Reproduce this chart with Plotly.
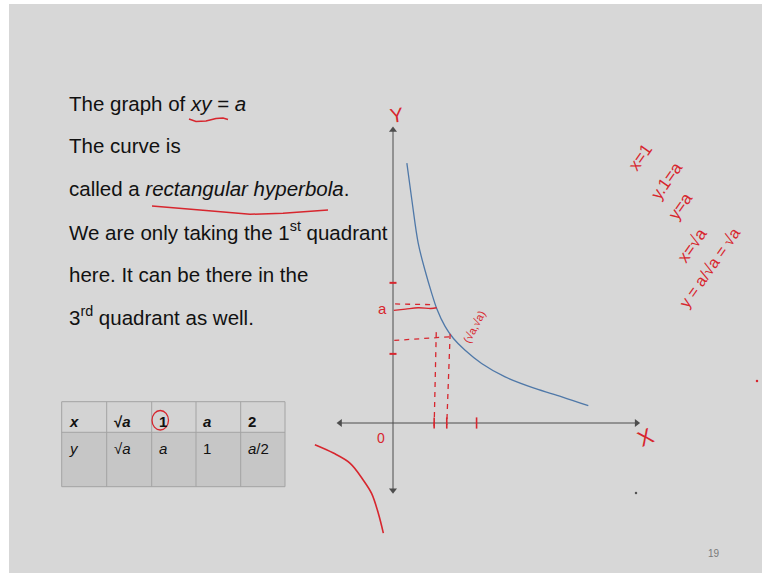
import plotly.graph_objects as go

W, H = 764, 573

# ---------- data (graph units: x along the drawn X axis, y along the drawn Y axis) ----------
curve_x = [0.33, 0.45, 0.60, 0.76, 0.92, 1.04, 1.24, 1.44, 1.71, 2.11, 2.67, 3.38, 4.02, 4.65]
curve_y = [4.06, 3.48, 2.81, 2.39, 2.03, 1.79, 1.51, 1.32, 1.14, 0.93, 0.72, 0.54, 0.41, 0.27]

# branch sketched in the 3rd quadrant
q3_x = [-1.86, -1.42, -1.02, -0.71, -0.51, -0.35, -0.23]
q3_y = [-0.34, -0.47, -0.63, -0.89, -1.10, -1.41, -1.72]

x_axis_span = [-1.26, 5.80]
y_axis_span = [-1.05, 4.58]

# red guide strokes
a_level_x = [0.02, 0.30, 0.60, 0.90, 1.04]
a_level_y = [1.76, 1.78, 1.80, 1.79, 1.80]
a_dash_x = [0.05, 0.90]
a_dash_y = [1.86, 1.85]
root_level_x = [0.03, 1.40]
root_level_y = [1.29, 1.35]
v_one_x = [1.03, 0.98]
v_one_y = [1.42, -0.05]
v_root_x = [1.36, 1.28]
v_root_y = [1.39, -0.03]
x_ticks = [0.98, 1.28, 1.99]
y_ticks = [2.19, 1.08]

# slide text
text_lines = [
    "The graph of <i>xy</i> = <i>a</i>",
    "The curve is",
    "called a <i>rectangular hyperbola</i>.",
    "We are only taking the 1<sup>st</sup> quadrant",
    "here. It can be there in the",
    "3<sup>rd</sup> quadrant as well.",
]
text_baselines = [112, 154, 197, 240, 283, 325]

# table of values
table_header = ["<b><i>x</i></b>", "<b>√<i>a</i></b>", "<b>1</b>", "<b><i>a</i></b>", "<b>2</b>"]
table_row = ["<i>y</i>", "√<i>a</i>", "<i>a</i>", "1", "<i>a</i>/2"]
col_edges = [61.7, 106.7, 151.7, 196.0, 240.7, 285.0]
row_edges = [401.7, 432.3, 486.7]

# handwritten notes at the right
notes = ["x=1", "y.1=a", "y=a", "x=√a", "y = a/√a = √a"]
notes_pos = [(640, 157), (666, 181), (680, 206), (692, 245), (709, 268)]
notes_size = [17, 17, 17, 17, 16]

# hand-drawn underlines (pixel points)
ul_eq = [(189, 119), (196, 121.5), (206, 121), (216, 118.5), (223, 118), (228, 119.5)]
ul_name = [(152, 206), (200, 210), (250, 214.3), (283, 213.3), (328, 210)]

RED = "#d7262e"
AXIS = "#4d4d4d"
BLUE = "#4f78a8"

# graph scale: 42 px per x unit, 64 px per y unit, origin at pixel (393, 423)
SX, SY, OX, OY = 42.0, 64.0, 393.0, 423.0
xr = [-OX / SX, (W - OX) / SX]
yr = [-(H - OY) / SY, OY / SY]


def px(x):
    return x / W


def py(y):
    return 1 - y / H


def path_from(points):
    pts = [f"{px(x):.5f},{py(y):.5f}" for x, y in points]
    return "M " + " L ".join(pts)


fig = go.Figure()

# drawn axes with arrowheads at both ends
fig.add_trace(go.Scatter(x=x_axis_span, y=[0, 0], mode="lines", line=dict(color=AXIS, width=1)))
fig.add_trace(go.Scatter(x=[0, 0], y=y_axis_span, mode="lines", line=dict(color=AXIS, width=1)))
fig.add_trace(go.Scatter(x=[x_axis_span[0], x_axis_span[1], 0, 0],
                         y=[0, 0, y_axis_span[0], y_axis_span[1]], mode="markers",
                         marker=dict(symbol=["triangle-left", "triangle-right",
                                             "triangle-down", "triangle-up"],
                                     size=7, color=AXIS, line=dict(width=0))))

# hyperbola
fig.add_trace(go.Scatter(x=curve_x, y=curve_y, mode="lines",
                         line=dict(color=BLUE, width=1.3, shape="spline", smoothing=1.0)))
# third-quadrant sketch
fig.add_trace(go.Scatter(x=q3_x, y=q3_y, mode="lines",
                         line=dict(color=RED, width=1.6, shape="spline")))
# guides
fig.add_trace(go.Scatter(x=a_level_x, y=a_level_y, mode="lines",
                         line=dict(color=RED, width=1.4, shape="spline")))
for gx, gy in [(a_dash_x, a_dash_y), (root_level_x, root_level_y),
               (v_one_x, v_one_y), (v_root_x, v_root_y)]:
    fig.add_trace(go.Scatter(x=gx, y=gy, mode="lines",
                             line=dict(color=RED, width=1.3, dash="5px,5px")))
fig.add_trace(go.Scatter(x=x_ticks, y=[0] * len(x_ticks), mode="markers",
                         marker=dict(symbol="line-ns", size=8, line=dict(color=RED, width=1.6))))
fig.add_trace(go.Scatter(x=[0] * len(y_ticks), y=y_ticks, mode="markers",
                         marker=dict(symbol="line-ew", size=5, line=dict(color=RED, width=2))))

annotations = []

hand = "Liberation Sans, Arial, sans-serif"
for txt, x, y, s, ang in [("Y", 0.09, 4.81, 20, -8), ("X", 6.0, -0.22, 22, -25),
                          ("0", -0.29, -0.24, 14, 0), ("a", -0.25, 1.79, 15, 0),
                          ("(√a,√a)", 1.93, 1.50, 11, -62)]:
    annotations.append(dict(x=x, y=y, xref="x", yref="y", text=txt, showarrow=False,
                            xanchor="center", yanchor="middle",
                            textangle=ang, font=dict(family=hand, size=s, color=RED)))

# slide body text
body_font = dict(family="Liberation Sans, Arial, sans-serif", size=20.5, color="#111111")
for t, b in zip(text_lines, text_baselines):
    annotations.append(dict(x=px(67), y=py(b - 9), xref="paper", yref="paper", text=t,
                            showarrow=False, xanchor="left", yanchor="middle", font=body_font))

# table text
tfont = dict(family="Liberation Sans, Arial, sans-serif", size=15, color="#111111")
for i in range(5):
    annotations.append(dict(x=px(col_edges[i] + 5), y=py(421), xref="paper", yref="paper",
                            text=table_header[i], showarrow=False, xanchor="left",
                            yanchor="middle", font=tfont))
    annotations.append(dict(x=px(col_edges[i] + 5), y=py(448), xref="paper", yref="paper",
                            text=table_row[i], showarrow=False, xanchor="left",
                            yanchor="middle", font=tfont))

# notes on the right
for t, (nx, ny), s in zip(notes, notes_pos, notes_size):
    annotations.append(dict(x=px(nx), y=py(ny), xref="paper", yref="paper", text=t,
                            showarrow=False, textangle=-55, xanchor="center", yanchor="middle",
                            font=dict(family=hand, size=s, color=RED)))

# page number
annotations.append(dict(x=px(714), y=py(553), xref="paper", yref="paper", text="19",
                        showarrow=False, xanchor="center", yanchor="middle",
                        font=dict(family="Liberation Sans, sans-serif", size=10, color="#7a7a7a")))

shapes = []
# slide area
shapes.append(dict(type="rect", xref="paper", yref="paper", x0=px(9), x1=px(762),
                   y0=py(573), y1=py(4), fillcolor="#d7d7d7", line=dict(width=0), layer="below"))
# table cells
shapes.append(dict(type="rect", xref="paper", yref="paper", x0=px(col_edges[0]), x1=px(col_edges[-1]),
                   y0=py(row_edges[1]), y1=py(row_edges[0]), fillcolor="#d3d3d3",
                   line=dict(width=0), layer="below"))
shapes.append(dict(type="rect", xref="paper", yref="paper", x0=px(col_edges[0]), x1=px(col_edges[-1]),
                   y0=py(row_edges[2]), y1=py(row_edges[1]), fillcolor="#c6c6c6",
                   line=dict(width=0), layer="below"))
for cx in col_edges:
    shapes.append(dict(type="line", xref="paper", yref="paper", x0=px(cx), x1=px(cx),
                       y0=py(row_edges[2]), y1=py(row_edges[0]), line=dict(color="#a3a3a3", width=1)))
for ry in row_edges:
    shapes.append(dict(type="line", xref="paper", yref="paper", x0=px(col_edges[0]), x1=px(col_edges[-1]),
                       y0=py(ry), y1=py(ry), line=dict(color="#a3a3a3", width=1)))
# circle around the 1 in the table
shapes.append(dict(type="circle", xref="paper", yref="paper", x0=px(152), x1=px(168.5),
                   y0=py(430), y1=py(410.5), line=dict(color=RED, width=1.3)))
# underlines
for pts in (ul_eq, ul_name):
    shapes.append(dict(type="path", xref="paper", yref="paper", path=path_from(pts),
                       line=dict(color=RED, width=1.5)))

# stray pen dots
fig.add_trace(go.Scatter(x=[(757 - OX) / SX, (636 - OX) / SX], y=[(OY - 381) / SY, (OY - 493) / SY],
                         mode="markers", marker=dict(size=2.5, color=[RED, "#555555"])))

fig.update_layout(
    width=W, height=H, margin=dict(l=0, r=0, t=0, b=0),
    paper_bgcolor="white", plot_bgcolor="rgba(0,0,0,0)",
    showlegend=False, hovermode=False,
    xaxis=dict(range=xr, visible=False, fixedrange=True),
    yaxis=dict(range=yr, visible=False, fixedrange=True),
    annotations=annotations, shapes=shapes,
)

fig.write_html("out.html")
